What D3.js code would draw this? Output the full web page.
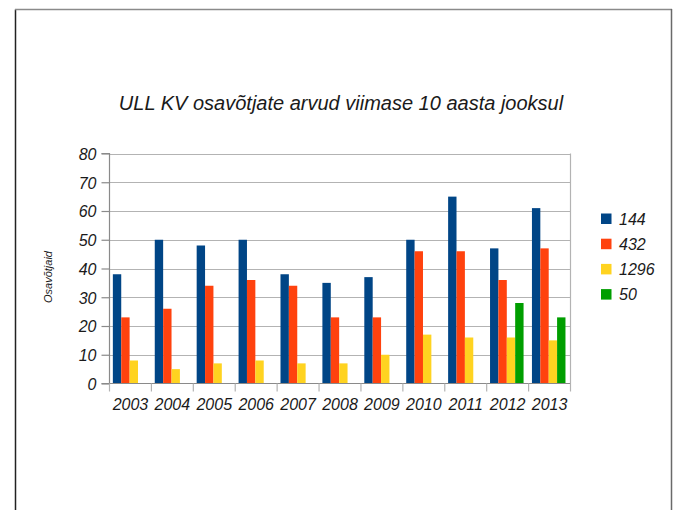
<!DOCTYPE html>
<html><head><meta charset="utf-8">
<script src="https://cdn.jsdelivr.net/npm/d3@7"></script>
<style>body{margin:0;background:#fff}svg{display:block}text{font-family:"Liberation Sans",Arial,sans-serif;font-style:italic;fill:#1a1a1a}</style>
</head><body>
<script>
const years = ["2003","2004","2005","2006","2007","2008","2009","2010","2011","2012","2013"];
const seriesNames = ["144","432","1296","50"];
const s144 = [38,50,48,50,38,35,37,50,65,47,61];
const s432 = [23,26,34,36,34,23,23,46,46,36,47];
const s1296 = [8,5,7,8,7,7,10,17,16,16,15];
const s50 = [null,null,null,null,null,null,null,null,null,28,23];
const colors = ["#004586","#ff420e","#ffd320","#009e00"];
const yTicks = [0,10,20,30,40,50,60,70,80];
const chartTitle = "ULL KV osavõtjate arvud viimase 10 aasta jooksul";
const yTitle = "Osavõtjaid";

(function(){
const W=676,H=510;
const svg=d3.select("body").append("svg").attr("width",W).attr("height",H);
// page frame
svg.append("line").attr("x1",15.5).attr("x2",15.5).attr("y1",9.5).attr("y2",H).attr("stroke","#222").attr("stroke-width",1.5);
svg.append("line").attr("x1",15).attr("x2",672).attr("y1",9.5).attr("y2",9.5).attr("stroke","#8a8a8a").attr("stroke-width",1.5);
svg.append("line").attr("x1",671.5).attr("x2",671.5).attr("y1",9).attr("y2",H).attr("stroke","#6a6a6a").attr("stroke-width",1.5);

const pL=109.5,pR=570.5,pT=153.5,pB=383.5;
const x=d3.scaleBand().domain(years).range([pL,pR]).paddingInner(0).paddingOuter(0);
const y=d3.scaleLinear().domain([0,80]).range([pB,pT]);
const xs=d3.scaleBand().domain(seriesNames).range([0,x.bandwidth()]).paddingInner(0).paddingOuter(0.5).align(0.4);

// gridlines
svg.append("g").selectAll("line").data(yTicks.slice(1)).join("line")
 .attr("x1",pL).attr("x2",pR).attr("y1",d=>Math.round(y(d))+0.5).attr("y2",d=>Math.round(y(d))+0.5)
 .attr("stroke","#b3b3b3").attr("stroke-width",1.2);
svg.append("line").attr("x1",pR).attr("x2",pR).attr("y1",pT).attr("y2",pB).attr("stroke","#b3b3b3").attr("stroke-width",1.2);

const data=[s144,s432,s1296,s50];
data.forEach((arr,si)=>{
  svg.append("g").selectAll("rect").data(years.map((yr,i)=>({yr,v:arr[i]})).filter(d=>d.v!=null)).join("rect")
   .attr("x",d=>x(d.yr)+xs(seriesNames[si])).attr("width",xs.bandwidth())
   .attr("y",d=>y(d.v)).attr("height",d=>y(0)-y(d.v)).attr("fill",colors[si]);
});

// axes
const yAxis=d3.axisLeft(y).tickValues(yTicks).tickSize(8).tickPadding(5);
const gy=svg.append("g").attr("transform",`translate(${pL},0)`).call(yAxis);
gy.select(".domain").attr("stroke","#8a8a8a").attr("stroke-width",1.2).attr("d",`M-8,${pT}H0V${pB}`);
gy.selectAll(".tick line").attr("stroke","#8a8a8a").attr("stroke-width",1.2);
gy.selectAll("text").style("font-size","16px").style("font-family","Liberation Sans, Arial, sans-serif").attr("fill","#1a1a1a").attr("dy","0.36em");

const gx=svg.append("g").attr("transform",`translate(0,${pB})`);
gx.append("line").attr("x1",pL-8).attr("x2",pR).attr("y1",0).attr("y2",0).attr("stroke","#8a8a8a").attr("stroke-width",1.2);
gx.selectAll("line.t").data(years.concat(["end"])).join("line").attr("class","t")
 .attr("x1",(d,i)=>pL+i*x.bandwidth()).attr("x2",(d,i)=>pL+i*x.bandwidth())
 .attr("y1",0).attr("y2",8).attr("stroke","#b3b3b3").attr("stroke-width",1.2);
gx.selectAll("text").data(years).join("text")
 .attr("x",d=>x(d)+x.bandwidth()/2).attr("y",26).attr("text-anchor","middle")
 .style("font-size","16px").text(d=>d);

// title
svg.append("text").attr("x",341).attr("y",110).attr("text-anchor","middle").style("font-size","20px").text(chartTitle);
svg.append("text").attr("transform","translate(51.5,277) rotate(-90)").attr("text-anchor","middle").style("font-size","11px").text(yTitle);

// legend
const lg=svg.append("g");
seriesNames.forEach((n,i)=>{
  const cy=218.5+i*25.2;
  lg.append("rect").attr("x",601).attr("y",cy-5).attr("width",10.5).attr("height",10.5).attr("fill",colors[i]);
  lg.append("text").attr("x",619).attr("y",cy+6).style("font-size","16px").text(n);
});
})();
</script>
</body></html>
